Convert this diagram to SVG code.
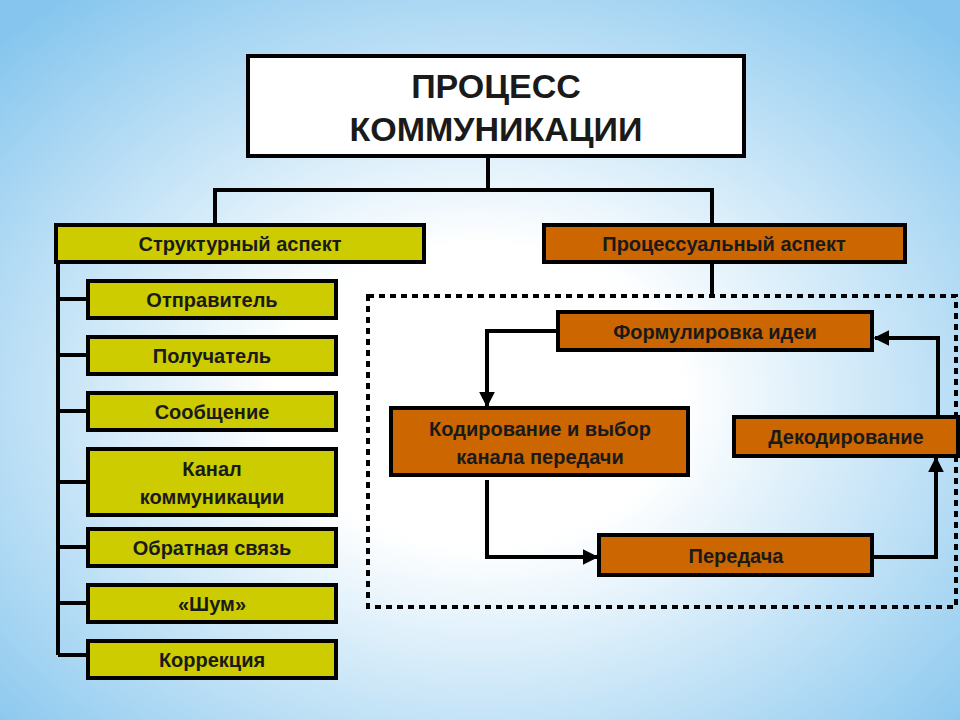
<svg xmlns="http://www.w3.org/2000/svg" width="960" height="720" viewBox="0 0 960 720">
<defs>
<radialGradient id="bg" cx="0.5" cy="0.55" r="0.7">
<stop offset="0.3" stop-color="#ffffff"/><stop offset="1" stop-color="#86c6ee"/>
</radialGradient>
<marker id="ah" viewBox="0 0 10 10" refX="9" refY="5" markerWidth="4" markerHeight="4.5" orient="auto" markerUnits="strokeWidth"><path d="M0,0 L10,5 L0,10 z" fill="#000"/></marker>
<style>
.y{fill:#cccc00;stroke:#000;stroke-width:4}
.o{fill:#cc6600;stroke:#000;stroke-width:4}
.w{fill:#fff;stroke:#000;stroke-width:4}
text{font-family:"Liberation Sans",Arial,sans-serif;font-weight:bold;fill:#1a1a1a;text-anchor:middle;dominant-baseline:central;font-size:20px}
text.t{font-size:34px}
.c{fill:none;stroke:#000;stroke-width:4}
.a{fill:none;stroke:#000;stroke-width:4;marker-end:url(#ah)}
</style>
</defs>
<rect width="960" height="720" fill="url(#bg)"/>
<g id="connectors">
<path class="c" d="M488,156 V190 M215,190 H712 M215,188 V225 M712,188 V225 M712,262 V296"/>
<path class="c" d="M58,262 V655 M58,299 H88 M58,355 H88 M58,411 H88 M58,482 H88 M58,547 H88 M58,603 H88 M58,655 H88"/>
<rect x="368" y="296" width="588" height="311" fill="none" stroke="#000" stroke-width="4" stroke-dasharray="6,5"/>
<path class="a" d="M558,331 H487 V406"/>
<path class="a" d="M487,480 V557 H597"/>
<path class="a" d="M872,557 H936 V458"/>
<path class="a" d="M938,417 V338 H875"/>
</g>
<g id="main"><rect class="w" x="248" y="56" width="496" height="100"/><text class="t" x="496" y="86">ПРОЦЕСС</text><text class="t" x="496" y="129">КОММУНИКАЦИИ</text></g>
<g id="struct"><rect class="y" x="56" y="225" width="368" height="37"/><text x="240" y="244">Структурный аспект</text></g>
<g id="proc"><rect class="o" x="544" y="225" width="361" height="37"/><text x="724" y="244">Процессуальный аспект</text></g>
<g id="n1"><rect class="y" x="88" y="281" width="248" height="37"/><text x="212" y="300">Отправитель</text></g>
<g id="n2"><rect class="y" x="88" y="337" width="248" height="37"/><text x="212" y="356">Получатель</text></g>
<g id="n3"><rect class="y" x="88" y="393" width="248" height="37"/><text x="212" y="412">Сообщение</text></g>
<g id="n4"><rect class="y" x="88" y="449" width="248" height="66"/><text x="212" y="469">Канал</text><text x="212" y="497">коммуникации</text></g>
<g id="n5"><rect class="y" x="88" y="529" width="248" height="37"/><text x="212" y="548">Обратная связь</text></g>
<g id="n6"><rect class="y" x="88" y="585" width="248" height="37"/><text x="212" y="604">«Шум»</text></g>
<g id="n7"><rect class="y" x="88" y="641" width="248" height="37"/><text x="212" y="660">Коррекция</text></g>
<g id="p1"><rect class="o" x="558" y="312" width="314" height="38"/><text x="715" y="332">Формулировка идеи</text></g>
<g id="p2"><rect class="o" x="391" y="408" width="297" height="67"/><text x="540" y="429">Кодирование и выбор</text><text x="540" y="457">канала передачи</text></g>
<g id="p3"><rect class="o" x="599" y="535" width="273" height="40"/><text x="736" y="556">Передача</text></g>
<g id="p4"><rect class="o" x="734" y="417" width="224" height="39"/><text x="846" y="437">Декодирование</text></g>
</svg>
